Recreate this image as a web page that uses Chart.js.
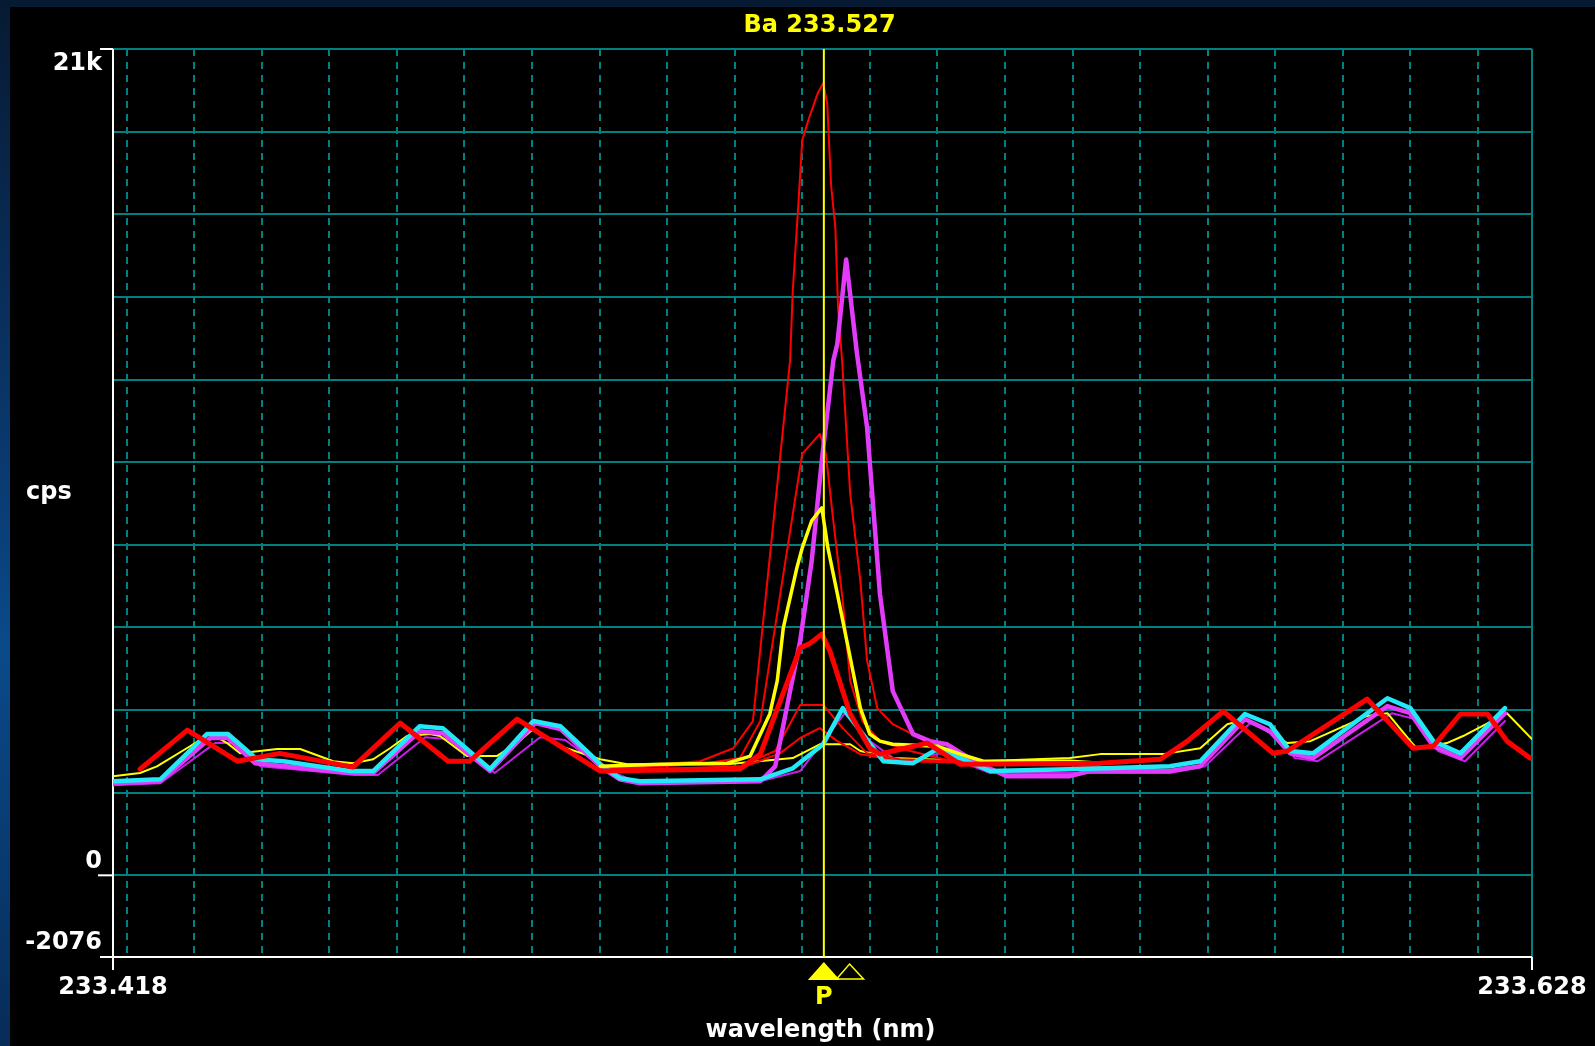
<!DOCTYPE html>
<html>
<head>
<meta charset="utf-8">
<title>Ba 233.527</title>
<script src="https://cdn.jsdelivr.net/npm/chart.js@4.4.0/dist/chart.umd.min.js"></script>
<style>
  html, body { margin:0; padding:0; }
  body {
    width:1595px; height:1046px; overflow:hidden; position:relative;
    background: linear-gradient(180deg, #071a33 0%, #0a3a70 45%, #0b4a8a 62%, #072c58 100%);
  }
  #frame { position:absolute; left:10px; top:7px; right:0; bottom:0; background:#000; }
  #chart { position:absolute; left:0; top:0; }
</style>
</head>
<body>
<div id="frame"></div>
<canvas id="chart" width="1595" height="1046"></canvas>
<script>
/* ====== 軸・目盛 ====== */
const xMin = 233.418, xMax = 233.628;
const yMin = -2076, yMax = 21000;
const titleText = 'Ba 233.527';
const peakWavelength = 233.5232;   // P（黄色の縦線）
const lineWavelength = 233.527;    // 白抜き三角
const xGridValues = [233.42, 233.43, 233.44, 233.45, 233.46, 233.47, 233.48, 233.49, 233.50, 233.51,
                     233.52, 233.53, 233.54, 233.55, 233.56, 233.57, 233.58, 233.59, 233.60, 233.61, 233.62];
const yGridValues = [0, 2100, 4200, 6300, 8400, 10500, 12600, 14700, 16800, 18900, 21000];
const yTickValues = [21000, 0, -2076];
const yTickLabels = ['21k', '0', '-2076'];
const xTickValues = [233.418, 233.628];
const xTickLabels = ['233.418', '233.628'];

/* ====== スペクトル [波長 nm, cps] ====== */
const redThick = [
  [233.4220, 2700], [233.4290, 3690], [233.4364, 2900], [233.4427, 3100], [233.4535, 2750],
  [233.4605, 3870], [233.4676, 2900], [233.4708, 2900], [233.4778, 3970], [233.4901, 2650],
  [233.5108, 2700], [233.5138, 3080], [233.5197, 5780], [233.5212, 5900], [233.5229, 6130],
  [233.5241, 5700], [233.5260, 4680], [233.5271, 4100], [233.5300, 3230], [233.5315, 3080],
  [233.5334, 3160], [233.5385, 3360], [233.5434, 2820], [233.5641, 2850], [233.5730, 2950],
  [233.5770, 3410], [233.5823, 4170], [233.5897, 3100], [233.5918, 3160], [233.6036, 4480],
  [233.6104, 3230], [233.6134, 3280], [233.6174, 4100], [233.6214, 4100], [233.6243, 3410],
  [233.6277, 2980]
];
const yellowThick = [
  [233.4901, 2770], [233.4990, 2820], [233.5089, 2850], [233.5123, 3030], [233.5152, 4100],
  [233.5163, 4940], [233.5172, 6290], [233.5192, 7810], [233.5200, 8320], [233.5214, 9010],
  [233.5229, 9340], [233.5238, 8320], [233.5252, 7150], [233.5266, 5960], [233.5286, 4250],
  [233.5300, 3590], [233.5315, 3410], [233.5334, 3330], [233.5400, 3280], [233.5434, 3080],
  [233.5468, 2900], [233.5596, 2900], [233.5641, 2850]
];
const cyanThick = [
  [233.4180, 2390], [233.4250, 2440], [233.4319, 3590], [233.4350, 3590], [233.4393, 2950],
  [233.4432, 2900], [233.4531, 2650], [233.4565, 2650], [233.4634, 3790], [233.4668, 3740],
  [233.4738, 2700], [233.4802, 3920], [233.4842, 3790], [233.4901, 2830], [233.4930, 2470],
  [233.4960, 2390], [233.5138, 2440], [233.5186, 2720], [233.5231, 3330], [233.5260, 4250],
  [233.5286, 3670], [233.5320, 2900], [233.5364, 2850], [233.5400, 3210], [233.5434, 2980],
  [233.5478, 2650], [233.5611, 2700], [233.5744, 2770], [233.5789, 2900], [233.5855, 4100],
  [233.5892, 3840], [233.5922, 3160], [233.5956, 3100], [233.6066, 4500], [233.6100, 4250],
  [233.6134, 3410], [233.6174, 3100], [233.6240, 4250]
];
const magentaThick = [
  [233.4180, 2340], [233.4250, 2390], [233.4324, 3490], [233.4350, 3490], [233.4390, 2850],
  [233.4435, 2770], [233.4531, 2600], [233.4565, 2600], [233.4634, 3660], [233.4668, 3610],
  [233.4738, 2650], [233.4805, 3870], [233.4842, 3720], [233.4901, 2770], [233.4930, 2440],
  [233.4960, 2340], [233.5138, 2390], [233.5160, 2770], [233.5182, 4680], [233.5197, 5960],
  [233.5214, 7990], [233.5229, 10540], [233.5246, 13080], [233.5252, 13510], [233.5265, 15650],
  [233.5281, 13260], [233.5296, 11380], [233.5315, 7150], [233.5334, 4680], [233.5364, 3590],
  [233.5389, 3410], [233.5414, 3330], [233.5459, 2850], [233.5503, 2520], [233.5596, 2520],
  [233.5626, 2650], [233.5744, 2650], [233.5789, 2770], [233.5855, 3970], [233.5892, 3660],
  [233.5922, 3100], [233.5956, 2980], [233.6066, 4300], [233.6100, 4120], [233.6134, 3280],
  [233.6174, 2980], [233.6240, 4120]
];
const redThinA = [
  [233.4901, 2700], [233.4990, 2820], [233.5049, 2900], [233.5098, 3230], [233.5127, 3920],
  [233.5182, 13080], [233.5186, 14860], [233.5194, 16980], [233.5200, 18680], [233.5209, 19190],
  [233.5223, 19880], [233.5231, 20130], [233.5237, 19620], [233.5240, 18500], [233.5243, 17480],
  [233.5249, 16470], [233.5253, 14430], [233.5259, 13080], [233.5271, 9700], [233.5286, 7480],
  [233.5296, 5450], [233.5311, 4250], [233.5334, 3840], [233.5355, 3660], [233.5382, 3410],
  [233.5434, 2950], [233.5493, 2850], [233.5641, 2850]
];
const redThinC = [
  [233.4901, 2700], [233.5049, 2820], [233.5108, 2980], [233.5138, 3920], [233.5200, 10710],
  [233.5226, 11220], [233.5235, 10710], [233.5246, 9010], [233.5260, 6970], [233.5271, 4940],
  [233.5289, 3920], [233.5315, 3410], [233.5360, 3160], [233.5434, 2850], [233.5641, 2770]
];
const redThinF = [
  [233.4901, 2650], [233.5108, 2770], [233.5160, 3160], [233.5197, 4330], [233.5231, 4330],
  [233.5260, 3740], [233.5296, 3100], [233.5345, 2950], [233.5641, 2800]
];
const redThinJ = [
  [233.4901, 2650], [233.5108, 2720], [233.5167, 3100], [233.5197, 3490], [233.5226, 3740],
  [233.5252, 3410], [233.5286, 3080], [233.5345, 2900], [233.5641, 2800]
];
const yellowThin = [
  [233.4180, 2520], [233.4220, 2600], [233.4245, 2770], [233.4294, 3280], [233.4324, 3610],
  [233.4349, 3360], [233.4368, 3100], [233.4423, 3210], [233.4457, 3210], [233.4506, 2900],
  [233.4535, 2850], [233.4565, 2950], [233.4590, 3230], [233.4615, 3540], [233.4649, 3590],
  [233.4664, 3540], [233.4704, 3030], [233.4748, 3030], [233.4778, 3360], [233.4802, 3720],
  [233.4842, 3280], [233.4901, 2950], [233.4941, 2820], [233.5089, 2820], [233.5186, 2980],
  [233.5226, 3330], [233.5271, 3330], [233.5286, 3160], [233.5334, 2980], [233.5463, 2900],
  [233.5596, 2980], [233.5641, 3080], [233.5734, 3080], [233.5789, 3230], [233.5829, 3840],
  [233.5858, 3970], [233.5918, 3360], [233.5952, 3410], [233.6036, 4050], [233.6066, 4120],
  [233.6100, 3410], [233.6110, 3210], [233.6154, 3360], [233.6178, 3540], [233.6243, 4120],
  [233.6280, 3460]
];
const magentaThin = [
  [233.4180, 2290], [233.4250, 2340], [233.4331, 3360], [233.4361, 3360], [233.4398, 2770],
  [233.4442, 2700], [233.4538, 2550], [233.4572, 2550], [233.4642, 3510], [233.4679, 3460],
  [233.4745, 2600], [233.4812, 3510], [233.4849, 3440], [233.4908, 2700], [233.4960, 2340],
  [233.5138, 2390], [233.5197, 2650], [233.5263, 4120], [233.5300, 3410], [233.5345, 2850],
  [233.5404, 3100], [233.5478, 2600], [233.5626, 2600], [233.5744, 2600], [233.5796, 2770],
  [233.5863, 3870], [233.5900, 3590], [233.5929, 2980], [233.5963, 2900], [233.6073, 4120],
  [233.6107, 3970], [233.6141, 3160], [233.6181, 2900], [233.6240, 3920]
];

/* ====== 色・線幅（上に描くものから順に） ====== */
const TEAL = '#008080';
const FONT = 'bold 24px "DejaVu Sans", sans-serif';
const seriesDefs = [
  { label: 'red 1',      data: redThick,     color: '#ff0000', width: 5 },
  { label: 'yellow 1',   data: yellowThick,  color: '#ffff00', width: 3.5 },
  { label: 'cyan',       data: cyanThick,    color: '#22e8f8', width: 4.5 },
  { label: 'magenta 1',  data: magentaThick, color: '#e23cfa', width: 4.5 },
  { label: 'red 2',      data: redThinA,     color: '#ff0000', width: 2 },
  { label: 'red 3',      data: redThinC,     color: '#ff0000', width: 2 },
  { label: 'red 4',      data: redThinF,     color: '#ff0000', width: 2 },
  { label: 'red 5',      data: redThinJ,     color: '#ff0000', width: 2 },
  { label: 'yellow 2',   data: yellowThin,   color: '#ffff00', width: 2 },
  { label: 'magenta 2',  data: magentaThin,  color: '#c81ee8', width: 2 }
];

function seg(ctx, x1, y1, x2, y2) {
  ctx.beginPath(); ctx.moveTo(x1, y1); ctx.lineTo(x2, y2); ctx.stroke();
}

/* ====== 枠・縦線・文字 ====== */
const framePlugin = {
  id: 'frame',
  beforeDatasetsDraw(chart) {
    const { ctx, chartArea: a, scales: { y } } = chart;
    ctx.save();
    ctx.lineWidth = 2;
    ctx.strokeStyle = TEAL;
    seg(ctx, a.right, a.top, a.right, a.bottom);
    ctx.strokeStyle = '#ffffff';
    seg(ctx, a.left, a.top, a.left, a.bottom + 13);
    seg(ctx, a.left - 13, a.bottom, a.right, a.bottom);
    seg(ctx, a.right, a.bottom, a.right, a.bottom + 13);
    seg(ctx, a.left - 13, y.getPixelForValue(yMax), a.left, y.getPixelForValue(yMax));
    seg(ctx, a.left - 15, y.getPixelForValue(0), a.left, y.getPixelForValue(0));
    ctx.restore();
  },
  afterDatasetsDraw(chart) {
    const { ctx, chartArea: a, scales: { x } } = chart;
    const px = x.getPixelForValue(peakWavelength);
    ctx.save();
    ctx.strokeStyle = '#ffff00'; ctx.lineWidth = 2;
    seg(ctx, px, a.top, px, a.bottom);
    ctx.restore();
  },
  afterDraw(chart) {
    const { ctx, chartArea: a, scales: { x, y } } = chart;
    ctx.save();
    ctx.font = FONT;
    // y ラベル
    ctx.fillStyle = '#ffffff';
    ctx.textAlign = 'right';
    yTickValues.forEach((v, i) => {
      const py = y.getPixelForValue(v);
      if (v === yMax) { ctx.textBaseline = 'top'; ctx.fillText(yTickLabels[i], a.left - 11, py + 3); }
      else { ctx.textBaseline = 'bottom'; ctx.fillText(yTickLabels[i], a.left - 11, py - 2); }
    });
    // x ラベル
    ctx.textAlign = 'center'; ctx.textBaseline = 'middle';
    xTickValues.forEach((v, i) => ctx.fillText(xTickLabels[i], x.getPixelForValue(v), a.bottom + 31));
    ctx.fillText('wavelength (nm)', (a.left + a.right) / 2 - 2, a.bottom + 74);
    ctx.textAlign = 'left';
    ctx.fillText('cps', 26, (a.top + a.bottom) / 2 - 10);
    // タイトル・マーカー
    ctx.fillStyle = '#ffff00'; ctx.strokeStyle = '#ffff00';
    ctx.textAlign = 'center';
    ctx.fillText(titleText, (a.left + a.right) / 2 - 3, 26);
    const pp = x.getPixelForValue(peakWavelength);
    const lp = x.getPixelForValue(lineWavelength);
    ctx.beginPath();
    ctx.moveTo(pp, a.bottom + 5); ctx.lineTo(pp + 16, a.bottom + 23); ctx.lineTo(pp - 16, a.bottom + 23);
    ctx.closePath(); ctx.fill();
    ctx.lineWidth = 1.5;
    ctx.beginPath();
    ctx.moveTo(lp, a.bottom + 7); ctx.lineTo(lp + 14, a.bottom + 22); ctx.lineTo(lp - 13, a.bottom + 22);
    ctx.closePath(); ctx.stroke();
    ctx.fillText('P', pp, a.bottom + 41);
    ctx.restore();
  }
};

new Chart(document.getElementById('chart').getContext('2d'), {
  type: 'line',
  data: {
    datasets: seriesDefs.map(s => ({
      label: s.label,
      data: s.data.map(p => ({ x: p[0], y: p[1] })),
      borderColor: s.color,
      borderWidth: s.width,
      borderJoinStyle: 'round',
      borderCapStyle: 'round',
      pointRadius: 0,
      tension: 0,
      fill: false
    }))
  },
  options: {
    responsive: false,
    devicePixelRatio: 1,
    animation: false,
    events: [],
    layout: { padding: { left: 113, top: 49, right: 63, bottom: 89 } },
    scales: {
      x: {
        type: 'linear', min: xMin, max: xMax,
        afterBuildTicks: s => { s.ticks = xGridValues.map(v => ({ value: v })); },
        afterFit: s => { s.height = 0; },
        ticks: { display: false },
        grid: { color: TEAL, lineWidth: 2, drawTicks: false },
        border: { display: false, dash: [7, 6] }
      },
      y: {
        type: 'linear', min: yMin, max: yMax,
        afterBuildTicks: s => { s.ticks = yGridValues.map(v => ({ value: v })); },
        afterFit: s => { s.width = 0; },
        ticks: { display: false },
        grid: { color: TEAL, lineWidth: 2, drawTicks: false },
        border: { display: false }
      }
    },
    plugins: { legend: { display: false }, tooltip: { enabled: false } }
  },
  plugins: [framePlugin]
});
</script>
</body>
</html>
